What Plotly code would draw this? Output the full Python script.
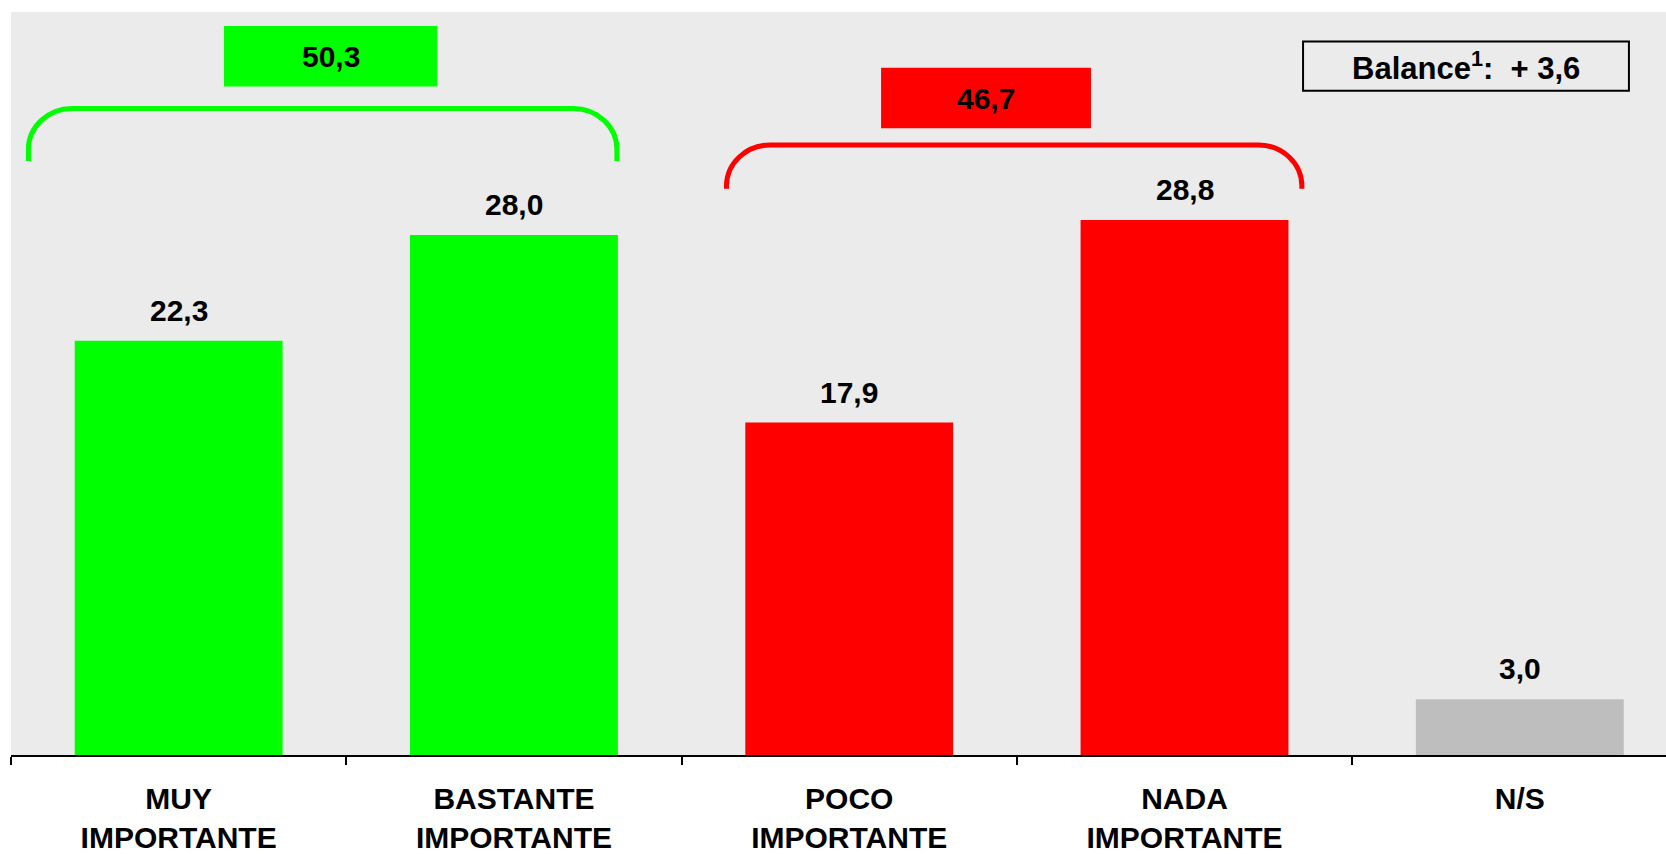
import plotly.graph_objects as go

# ---- data ----
categories = ["MUY<br>IMPORTANTE", "BASTANTE<br>IMPORTANTE", "POCO<br>IMPORTANTE",
              "NADA<br>IMPORTANTE", "N/S"]
values = [22.3, 28.0, 17.9, 28.8, 3.0]
value_labels = ["22,3", "28,0", "17,9", "28,8", "3,0"]
group_totals = [50.3, 46.7]
group_labels = ["50,3", "46,7"]
balance_label = "Balance<sup>1</sup>:&nbsp;&nbsp;+&nbsp;3,6"

# ---- styles ----
bar_colors = ["#00ff00", "#00ff00", "#ff0000", "#ff0000", "#bebebe"]
group_colors = ["#00ff00", "#ff0000"]
FONT = "Arial, Liberation Sans, sans-serif"

fig = go.Figure()
fig.add_trace(go.Bar(
    x=categories, y=values, marker=dict(color=bar_colors, line=dict(width=0)),
    width=0.62, hoverinfo="skip", showlegend=False,
))

annotations = []
for c, v, t in zip(categories, values, value_labels):
    annotations.append(dict(x=c, y=v, xref="x", yref="y", text=t, showarrow=False,
                            xanchor="center", yanchor="bottom", yshift=12,
                            font=dict(family=FONT, size=30, color="black", weight="bold")))

shapes = []
# brackets (data coordinates: x in category index units, y in value units)
brackets = [
    dict(x0=-0.448, x1=1.307, yt=34.81, yb=31.98, color=group_colors[0]),
    dict(x0=1.634, x1=3.350, yt=32.84, yb=30.49, color=group_colors[1]),
]
dx, dy = 0.13, 2.2
for b in brackets:
    x0, x1, yt, yb = b["x0"], b["x1"], b["yt"], b["yb"]
    path = (f"M {x0},{yb} L {x0},{yt-dy} C {x0},{yt-dy*0.45} {x0+dx*0.45},{yt} {x0+dx},{yt} "
            f"L {x1-dx},{yt} C {x1-dx*0.45},{yt} {x1},{yt-dy*0.45} {x1},{yt-dy} L {x1},{yb}")
    shapes.append(dict(type="path", path=path, xref="x", yref="y",
                       line=dict(color=b["color"], width=5)))

# group total boxes
boxes = [
    dict(x0=0.135, x1=0.771, y0=35.99, y1=39.24),
    dict(x0=2.095, x1=2.721, y0=33.74, y1=37.0),
]
for b, col, lab in zip(boxes, group_colors, group_labels):
    shapes.append(dict(type="rect", xref="x", yref="y", x0=b["x0"], x1=b["x1"],
                       y0=b["y0"], y1=b["y1"], fillcolor=col, line=dict(width=0),
                       layer="above"))
    annotations.append(dict(x=(b["x0"] + b["x1"]) / 2, y=(b["y0"] + b["y1"]) / 2,
                            xref="x", yref="y", text=lab, showarrow=False,
                            xanchor="center", yanchor="middle",
                            font=dict(family=FONT, size=30, color="black", weight="bold")))

# balance box
bx0, bx1, by0, by1 = 0.7807, 0.9776, 0.894, 0.9603
shapes.append(dict(type="rect", xref="paper", yref="paper", x0=bx0, x1=bx1,
                   y0=by0, y1=by1, line=dict(color="black", width=2),
                   fillcolor="rgba(0,0,0,0)"))
annotations.append(dict(x=(bx0 + bx1) / 2, y=(by0 + by1) / 2,
                        xref="paper", yref="paper", text=balance_label, showarrow=False,
                        xanchor="center", yanchor="middle",
                        font=dict(family=FONT, size=31, color="black", weight="bold")))

fig.update_layout(
    width=1666, height=854,
    margin=dict(l=11, r=0, t=12, b=91),
    paper_bgcolor="white",
    plot_bgcolor="#ebebeb",
    shapes=shapes,
    annotations=annotations,
    xaxis=dict(
        type="category", range=[-0.5, 4.436], tickson="boundaries",
        ticks="outside", ticklen=8, tickwidth=2, tickcolor="black",
        showline=True, linecolor="black", linewidth=2,
        showgrid=False, zeroline=False, ticklabelstandoff=16,
        tickfont=dict(family=FONT, size=30, color="black", weight="bold"),
        fixedrange=True,
    ),
    yaxis=dict(range=[0, 40], visible=False, showgrid=False, zeroline=False,
               fixedrange=True),
)

fig.write_html("out.html", config={"displayModeBar": False},
               post_script="document.body.style.margin='0';document.body.style.overflow='hidden';")
